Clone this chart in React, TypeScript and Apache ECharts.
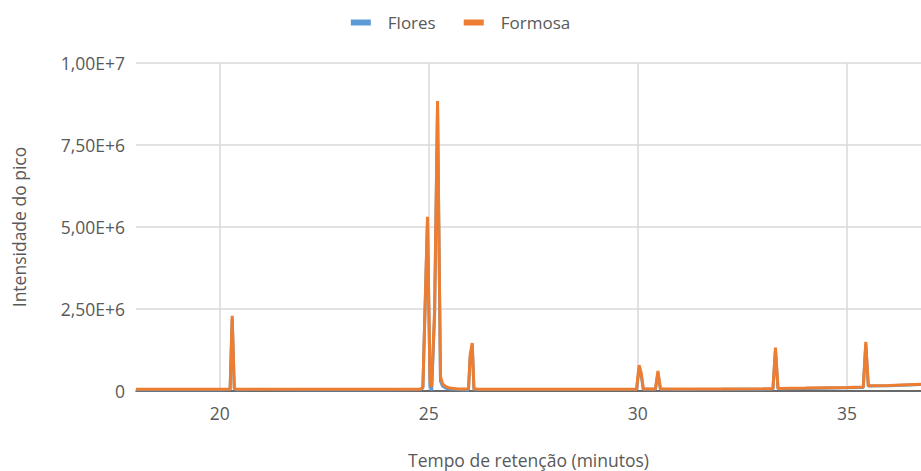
import React, { useEffect, useRef } from "react";
import * as echarts from "echarts";

const times = [
  18.0, 19.0, 20.0, 20.25, 20.3, 20.35, 20.4, 21.0, 22.0, 23.0, 24.0, 24.8, 24.86,
  24.97, 25.03, 25.07, 25.14, 25.21, 25.28, 25.33, 25.4, 25.5, 25.7, 25.95, 25.99,
  26.04, 26.08, 26.2, 27.0, 28.0, 29.0, 29.97, 30.03, 30.08, 30.13, 30.42, 30.48,
  30.54, 31.0, 32.0, 33.0, 33.23, 33.29, 33.35, 34.0, 35.0, 35.39, 35.45, 35.51,
  36.0, 36.8,
];

const formosa = [
  50000, 52000, 50000, 52000, 2290000, 90000, 50000, 55000, 50000, 52000, 50000, 52000, 120000,
  5310000, 300000, 130000, 2500000, 8840000, 450000, 220000, 140000, 90000, 60000, 60000, 1100000,
  1460000, 70000, 55000, 55000, 52000, 55000, 55000, 790000, 550000, 60000, 60000, 610000,
  60000, 58000, 60000, 65000, 70000, 1320000, 80000, 90000, 110000, 120000, 1500000, 160000,
  170000, 210000,
];

const flores = [
  40000, 42000, 40000, 42000, 2200000, 70000, 40000, 45000, 40000, 42000, 40000, 42000, 90000,
  5200000, 150000, 20000, 2300000, 8700000, 300000, 150000, 90000, 60000, 45000, 30000, 1000000,
  1400000, 50000, 45000, 45000, 42000, 45000, 45000, 700000, 480000, 50000, 50000, 550000,
  50000, 48000, 50000, 55000, 60000, 1250000, 70000, 80000, 100000, 110000, 1420000, 150000,
  160000, 200000,
];

const xTicks = [20, 25, 30, 35];
const seriesNames = ["Flores", "Formosa"];

function fmtY(v: number): string {
  if (v === 0) return "0";
  const e = Math.floor(Math.log10(v) + 1e-9);
  const m = v / Math.pow(10, e);
  return m.toFixed(2).replace(".", ",") + "E+" + e;
}

export default function App() {
  const ref = useRef<HTMLDivElement>(null);
  useEffect(() => {
    document.body.style.margin = "0";
    if (!ref.current) return;
    const chart = echarts.init(ref.current, undefined, { renderer: "svg" });
    const font = "'Open Sans', 'Noto Sans', sans-serif";
    chart.setOption({
      animation: false,
      textStyle: { fontFamily: font },
      legend: {
        top: 9,
        left: "center",
        icon: "rect",
        itemWidth: 20,
        itemHeight: 6,
        itemGap: 28,
        textStyle: { fontSize: 17, color: "#595959", fontFamily: font, padding: [0, 0, 0, 12] },
        data: seriesNames,
      },
      grid: { left: 136, right: 0, top: 63, bottom: 80, outerBoundsMode: "none", containLabel: false },
      xAxis: {
        type: "value",
        min: 18,
        max: 36.77,
        name: "Tempo de retenção (minutos)",
        nameLocation: "middle",
        nameGap: 60,
        nameTextStyle: { fontSize: 17.5, color: "#595959", fontFamily: font },
        axisLine: { show: true, onZero: false, lineStyle: { color: "#404040", width: 1.5 } },
        axisTick: { show: false, customValues: xTicks },
        axisLabel: {
          customValues: xTicks,
          fontSize: 17.5,
          color: "#595959",
          margin: 13,
          fontFamily: font,
        },
        splitLine: { show: true, lineStyle: { color: "#d9d9d9", width: 1.5 } },
      },
      yAxis: {
        type: "value",
        min: 0,
        max: 10000000,
        interval: 2500000,
        name: "Intensidade do pico",
        nameLocation: "middle",
        nameGap: 108,
        nameTextStyle: { fontSize: 17.5, color: "#595959", fontFamily: font },
        axisLine: { show: false },
        axisTick: { show: false },
        axisLabel: {
          formatter: (v: number) => fmtY(v),
          fontSize: 17.5,
          color: "#595959",
          margin: 11,
          fontFamily: font,
        },
        splitLine: { show: true, lineStyle: { color: "#d9d9d9", width: 1.5 } },
      },
      series: [
        {
          name: "Flores",
          type: "line",
          showSymbol: false,
          symbol: "none",
          data: times.map((t, i) => [t, flores[i]]),
          lineStyle: { color: "#5B9BD5", width: 3 },
          itemStyle: { color: "#5B9BD5" },
        },
        {
          name: "Formosa",
          type: "line",
          showSymbol: false,
          symbol: "none",
          data: times.map((t, i) => [t, formosa[i]]),
          lineStyle: { color: "#ED7D31", width: 3 },
          itemStyle: { color: "#ED7D31" },
        },
      ],
    });
    return () => chart.dispose();
  }, []);
  return <div ref={ref} style={{ width: 921, height: 471 }} />;
}
